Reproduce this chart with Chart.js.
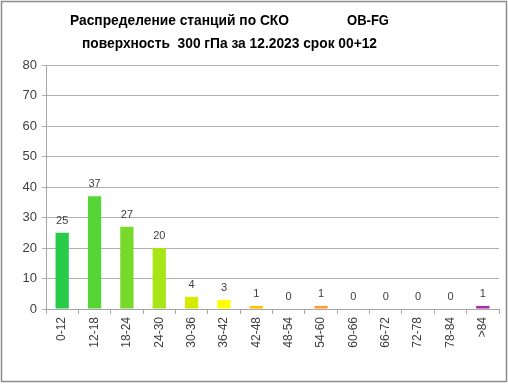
<!DOCTYPE html>
<html><head><meta charset="utf-8">
<script src="https://cdn.jsdelivr.net/npm/chart.js@4"></script>
<style>html,body{margin:0;padding:0;background:#fff}#wrap{width:508px;height:384px;position:relative}</style>
</head><body><div id="wrap"><canvas id="c" width="508" height="384"></canvas></div>
<script>
const categories = ['0-12','12-18','18-24','24-30','30-36','36-42','42-48','48-54','54-60','60-66','66-72','72-78','78-84','>84'];
const counts = [25,37,27,20,4,3,1,0,1,0,0,0,0,1];
const barColors = ['#28cc48','#55d536','#77da2a','#a8e516','#d4ea00','#ffff00','#ffc000','#ffc000','#ff9a2e','#ff9a2e','#ff9a2e','#ff9a2e','#ff9a2e','#a828a8'];
const yTicks = [0,10,20,30,40,50,60,70,80];
const titleLine1a = 'Распределение станций по СКО';
const titleLine1b = 'OB-FG';
const titleLine2 = 'поверхность  300 гПа за 12.2023 срок 00+12';

const FONT = '"Liberation Sans", Arial, sans-serif';

const decor = {
  id: 'decor',
  afterDatasetsDraw(chart) {
    const ctx = chart.ctx;
    const meta = chart.getDatasetMeta(0);
    ctx.save();
    ctx.fillStyle = '#404040';
    ctx.font = '11px ' + FONT;
    ctx.textAlign = 'center';
    ctx.textBaseline = 'middle';
    meta.data.forEach((bar, i) => {
      ctx.fillText(String(counts[i]), bar.x, bar.y - 12);
    });
    ctx.restore();
  },
  afterDraw(chart) {
    const ctx = chart.ctx;
    ctx.save();
    ctx.fillStyle = '#000';
    ctx.textBaseline = 'middle';
    ctx.textAlign = 'left';
    ctx.font = 'bold 15px ' + FONT;
    ctx.fillText(titleLine1a, 70, 21, 219);
    ctx.fillText(titleLine1b, 347, 21, 42);
    ctx.fillText(titleLine2, 82, 44, 295);
    ctx.strokeStyle = '#8c8c8c';
    ctx.lineWidth = 1.5;
    ctx.strokeRect(1.5, 1.5, 505, 380);
    ctx.restore();
  }
};

new Chart(document.getElementById('c'), {
  type: 'bar',
  data: {
    labels: categories,
    datasets: [{
      data: counts,
      backgroundColor: barColors,
      borderWidth: 0,
      barPercentage: 0.41,
      categoryPercentage: 1.0
    }]
  },
  options: {
    responsive: false,
    animation: false,
    layout: { padding: { top: 65, left: 0, right: 9, bottom: 0 } },
    plugins: { legend: { display: false }, title: { display: false }, tooltip: { enabled: false } },
    scales: {
      x: {
        afterFit(s) { s.height = 75; },
        grid: { display: true, drawOnChartArea: false, color: '#a6a6a6', tickLength: 5, offset: true },
        border: { display: true, color: '#a6a6a6' },
        ticks: { minRotation: 90, maxRotation: 90, color: '#404040', font: { size: 12, family: FONT }, padding: 3, autoSkip: false }
      },
      y: {
        min: 0, max: 80,
        afterFit(s) { s.width = 46; },
        afterBuildTicks(s) { s.ticks = yTicks.map(v => ({ value: v })); },
        grid: { color: '#b0b0b0', tickLength: 4 },
        border: { display: true, color: '#a6a6a6' },
        ticks: { color: '#404040', font: { size: 13, family: FONT }, padding: 5 }
      }
    }
  },
  plugins: [decor]
});
</script></body></html>
